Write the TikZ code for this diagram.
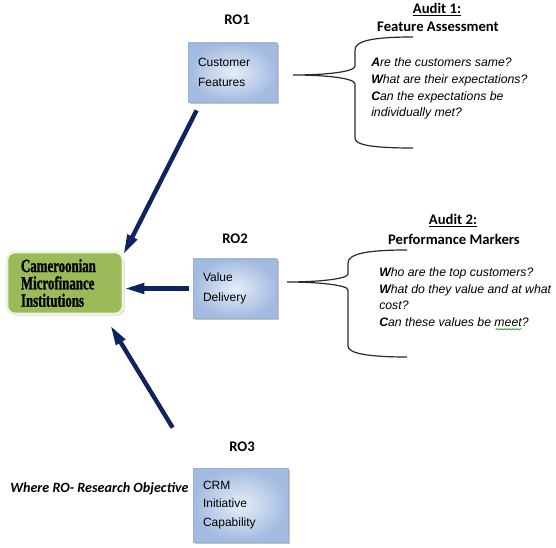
\documentclass[tikz,border=0pt]{standalone}
\usepackage{fontspec}
\setmainfont{Liberation Sans}
\newfontfamily\calib{Carlito}
\newfontfamily\condserif[FakeStretch=0.69,FakeBold=1.2]{Liberation Serif}
\usetikzlibrary{arrows.meta,shadows,decorations.pathmorphing}
\definecolor{navy}{HTML}{0F2360}
\definecolor{mfgreen}{HTML}{9BBB59}
\definecolor{greenedge}{HTML}{EEF3E0}
\definecolor{boxin}{HTML}{E6EDF7}
\definecolor{boxout}{HTML}{A3BBE0}
\definecolor{boxedge}{HTML}{9AB0D0}
\definecolor{braceclr}{HTML}{2A2A2A}
\begin{document}
\begin{tikzpicture}[x=0.75pt,y=-0.75pt,
  rolab/.style={font=\calib\bfseries\fontsize{11}{13}\selectfont, inner sep=0pt},
  head/.style={font=\calib\bfseries\fontsize{11}{13}\selectfont, inner sep=0pt},
  qtext/.style={font=\itshape\fontsize{9.2}{11}\selectfont, anchor=mid west, inner sep=0pt},
  bluebox/.style={draw=boxedge, line width=0.6pt, inner color=boxin, outer color=boxout,
    align=left, inner xsep=7.5pt, font=\fontsize{9}{15}\selectfont,
    drop shadow={fill=black!50, opacity=0.45, shadow xshift=1.5pt, shadow yshift=-1.5pt}},
  link/.style={draw=navy, line width=3.3pt, -{Triangle[length=15pt,width=7.5pt]}},
  bracepath/.style={draw=braceclr, line width=0.9pt},
]
\useasboundingbox (0,0) rectangle (556,548);

% boxes
\node[bluebox, minimum height=44.25pt, text width=51.75pt] (cf) at (232.5,72.5) {Customer\\Features};
\node[bluebox, minimum height=44.25pt, text width=48pt] (vd) at (235,288.5) {Value\\Delivery};
\node[bluebox, minimum height=55.5pt, text width=56.25pt, font=\fontsize{9}{14}\selectfont] (crm) at (240.5,505) {CRM\\Initiative\\Capability};

\node[draw=greenedge, line width=2pt, fill=mfgreen, rounded corners=6pt,
  minimum height=46.5pt, text width=66pt, inner xsep=10.5pt, align=left,
  font=\condserif\bfseries\fontsize{14}{13}\selectfont,
  drop shadow={fill=black!50, opacity=0.4, shadow xshift=1.2pt, shadow yshift=-1.2pt}]
  (cm) at (65,283) {Cameroonian\\Microfinance\\Institutions};

% RO labels
\node[rolab] (ro1) at (237,20) {RO1};
\node[rolab] (ro2) at (235,239) {RO2};
\node[rolab] (ro3) at (242,447) {RO3};

% audit headers
\node[head] (h1a) at (437,10) {\underline{Audit 1:}};
\node[head] (h1b) at (438,27) {Feature Assessment};
\node[head] (h2a) at (453,221) {\underline{Audit 2:}};
\node[head] (h2b) at (454,239) {Performance Markers};

% questions
\node[qtext] (q1a) at (371,63) {\textbf{A}re the customers same?};
\node[qtext] (q1b) at (371,80) {\textbf{W}hat are their expectations?};
\node[qtext] (q1c) at (371,97) {\textbf{C}an the expectations be};
\node[qtext] (q1d) at (371,113) {individually met?};

\node[qtext] (q2a) at (379,273) {\textbf{W}ho are the top customers?};
\node[qtext] (q2b) at (379,290) {\textbf{W}hat do they value and at what};
\node[qtext] (q2c) at (379,306) {cost?};
\node[qtext] (q2d) at (379,323) {\textbf{C}an these values be meet?};
\draw[draw=green!55!black, line width=0.4pt, decorate, decoration={snake, amplitude=0.45pt, segment length=2pt}]
  ([shift={(-25pt,-2pt)}]q2d.base east) -- ([shift={(-5.5pt,-2pt)}]q2d.base east);

% note
\node[font=\calib\bfseries\itshape\fontsize{10.6}{12}\selectfont, anchor=mid west, inner sep=0pt] (note) at (10,489) {Where RO- Research Objective};

% braces
\draw[bracepath] (413,37) .. controls (372,37) and (355,41) .. (355,50) -- (355,66)
  .. controls (355,72) and (325,75) .. (293,75)
  .. controls (325,75) and (355,78) .. (355,84) -- (355,138)
  .. controls (355,145) and (372,148) .. (413,148);
\draw[bracepath] (407,250) .. controls (366,250) and (348,254) .. (348,263) -- (348,274)
  .. controls (348,279) and (318,282) .. (287,282)
  .. controls (318,282) and (348,285) .. (348,290) -- (348,346)
  .. controls (348,353) and (366,357) .. (407,357);

% connectors
\draw[link] ([shift={(9,8)}]cf.south west) -- ([shift={(-1,4)}]cm.north east);
\draw[link] ([shift={(-4,0)}]vd.west) -- (vd.west -| cm.east);
\draw[link] ([shift={(-20,-40)}]crm.north west) -- ([shift={(-14,10)}]cm.south east);
\end{tikzpicture}
\end{document}
